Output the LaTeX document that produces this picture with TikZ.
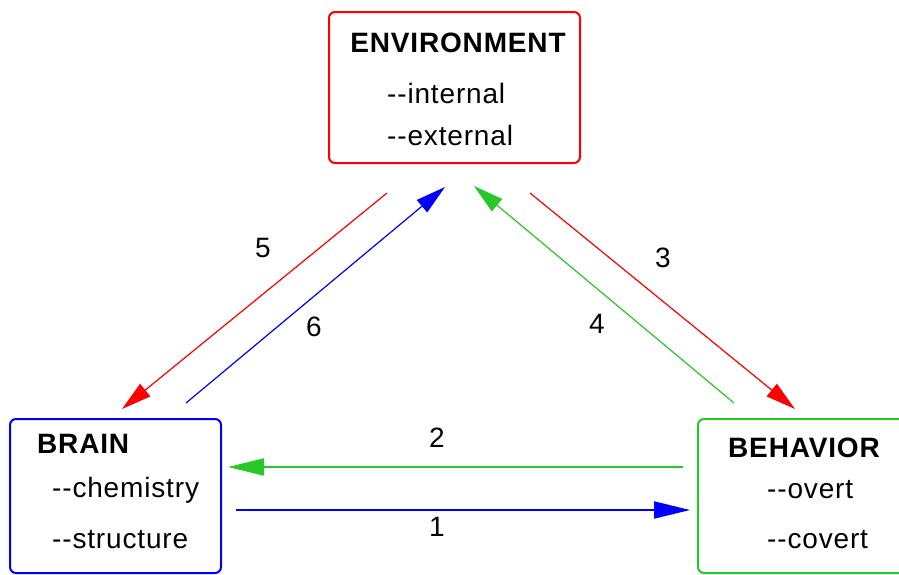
\documentclass[tikz,border=0pt]{standalone}
\usepackage{fontspec}
\setmainfont{Liberation Sans}[LetterSpace=3]
\usetikzlibrary{arrows.meta}
\definecolor{lgreen}{RGB}{40,200,40}
\definecolor{lred}{RGB}{255,0,0}
\definecolor{lblue}{RGB}{0,0,255}
\begin{document}
\begin{tikzpicture}[x=1pt,y=-1pt,
  box/.style={draw,line width=2pt,rounded corners=6pt,inner sep=0pt,minimum width=#1},
  txt/.style={inner sep=0pt,font=\fontsize{28}{30}\selectfont},
  ttl/.style={inner sep=0pt,font=\fontsize{28}{30}\selectfont\bfseries},
  num/.style={inner sep=0pt,font=\fontsize{28}{30}\selectfont},
  diag/.style={line width=1.2pt,-{Triangle[length=30pt,width=16pt]}},
  horz/.style={line width=2pt,-{Triangle[length=36pt,width=17pt]}}
]
\useasboundingbox (0,0) rectangle (899,574);
% boxes
\node[box=251pt,draw=lred,minimum height=151pt] (env) at (454.5,87.5) {};
\node[box=211pt,draw=lblue,minimum height=154pt] (brain) at (115.5,496) {};
\node[box=214pt,draw=lgreen,minimum height=154pt] (behav) at (805,496) {};
% texts
\node[ttl,anchor=base] (envt) at (458,52) {ENVIRONMENT};
\node[txt,anchor=base west] (envi) at (387,103) {-{}-internal};
\node[txt,anchor=base west] (enve) at (387,145) {-{}-external};
\node[ttl,anchor=base west] (braint) at (37,453) {BRAIN};
\node[txt,anchor=base west] (brainc) at (52,497) {-{}-chemistry};
\node[txt,anchor=base west] (brains) at (52,548) {-{}-structure};
\node[ttl,anchor=base west] (behavt) at (728,457) {BEHAVIOR};
\node[txt,anchor=base west] (behavo) at (767,498) {-{}-overt};
\node[txt,anchor=base west] (behavc) at (767,548) {-{}-covert};
% connector end points
\coordinate (a5s) at (387,193); \coordinate (a5e) at (122,409);
\coordinate (a6s) at (186,403); \coordinate (a6e) at (445,187);
\coordinate (a4s) at (734,403); \coordinate (a4e) at (474,186);
\coordinate (a3s) at (530,193); \coordinate (a3e) at (795,409);
\coordinate (a2s) at (683,467); \coordinate (a2e) at (228,467);
\coordinate (a1s) at (236,510); \coordinate (a1e) at (690,510);
% connectors
\draw[diag,draw=lred,fill=lred] (a5s) -- (a5e);
\draw[diag,draw=lblue,fill=lblue] (a6s) -- (a6e);
\draw[diag,draw=lgreen,fill=lgreen] (a4s) -- (a4e);
\draw[diag,draw=lred,fill=lred] (a3s) -- (a3e);
\draw[horz,draw=lgreen,fill=lgreen] (a2s) -- (a2e);
\draw[horz,draw=lblue,fill=lblue] (a1s) -- (a1e);
% labels
\node[num] (l5) at (263,248) {5};
\node[num] (l6) at (314,327) {6};
\node[num] (l3) at (663,258) {3};
\node[num] (l4) at (597,324) {4};
\node[num] (l2) at (437,438) {2};
\node[num] (l1) at (437,527) {1};
\end{tikzpicture}
\end{document}
